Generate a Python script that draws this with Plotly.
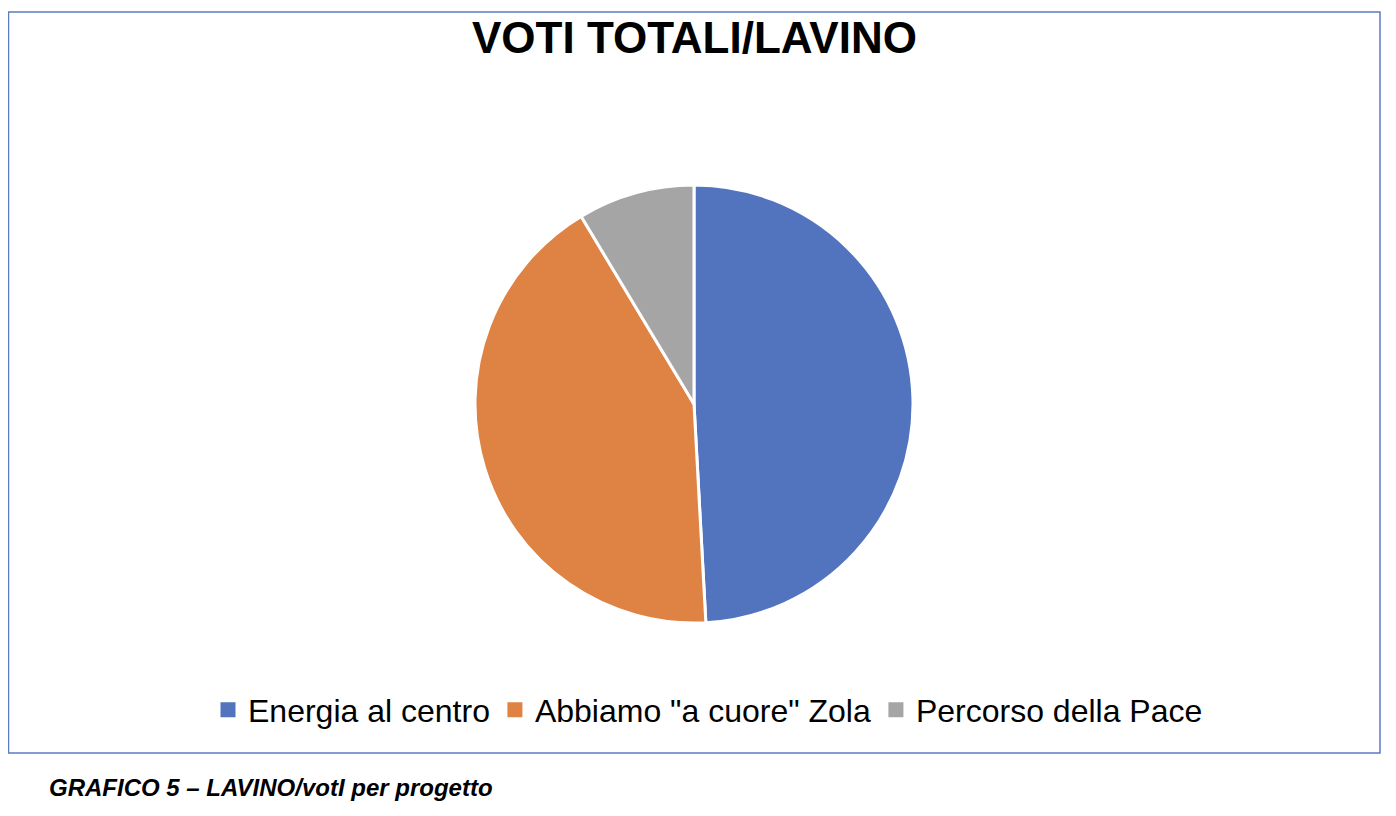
import plotly.graph_objects as go

labels = ["Energia al centro", 'Abbiamo "a cuore" Zola', "Percorso della Pace"]
values = [57, 49, 10]
colors = ["#5273BE", "#DF8344", "#A5A5A5"]

W, H = 1396, 816
OFF = 8  # page body margin offset

def px(x):
    return (x - OFF) / W

def py(y):
    return (H - (y - OFF)) / H

fig = go.Figure(go.Pie(
    labels=labels,
    values=values,
    sort=False,
    direction="clockwise",
    rotation=0,
    textinfo="none",
    hoverinfo="label+value+percent",
    showlegend=False,
    marker=dict(colors=colors, line=dict(color="white", width=3)),
    domain=dict(x=[px(475), px(913)], y=[py(623), py(185)]),
))

# legend entries with square markers (same labels/colours as the pie)
for lab, col in zip(labels, colors):
    fig.add_trace(go.Scatter(
        x=[None], y=[None], mode="markers", name=lab,
        marker=dict(symbol="square", size=15, color=col),
        hoverinfo="skip", showlegend=True,
    ))

fig.add_shape(type="rect", xref="paper", yref="paper",
              x0=px(8.5), x1=px(1380), y0=py(753), y1=py(12),
              line=dict(color="#5B7BC4", width=1.5), fillcolor="rgba(0,0,0,0)")

fig.add_annotation(text="<b>VOTI TOTALI/LAVINO</b>", xref="paper", yref="paper",
                   x=px(694), y=py(38), xanchor="center", yanchor="middle",
                   showarrow=False,
                   font=dict(family="Liberation Sans, Arial", size=44, color="black"))

fig.add_annotation(text="<b><i>GRAFICO 5 – LAVINO/votI per progetto</i></b>", xref="paper", yref="paper",
                   x=px(47), y=py(787), xanchor="left", yanchor="middle",
                   showarrow=False,
                   font=dict(family="Liberation Sans, Arial", size=24, color="black"))

fig.update_layout(
    width=W, height=H,
    margin=dict(l=0, r=0, t=0, b=0),
    paper_bgcolor="white",
    plot_bgcolor="white",
    xaxis=dict(visible=False),
    yaxis=dict(visible=False),
    showlegend=True,
    legend=dict(orientation="h", x=px(708), xanchor="center",
                y=py(710), yanchor="middle",
                font=dict(family="Liberation Sans, Arial", size=32, color="black"),
                itemsizing="trace", itemwidth=30,
                traceorder="normal"),
)

fig.write_html("out.html")
